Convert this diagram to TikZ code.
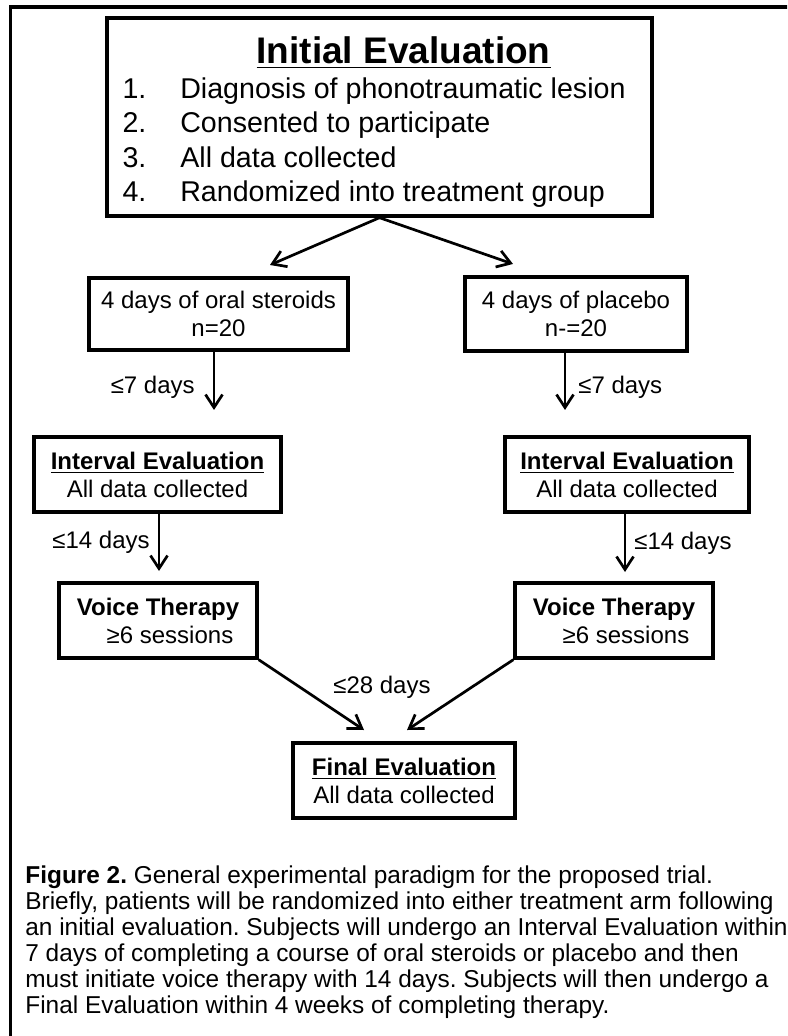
\documentclass[tikz,border=0pt]{standalone}
\usepackage{fontspec}
\setmainfont{Liberation Sans}
\usetikzlibrary{arrows.meta}
\frenchspacing

\begin{document}
\begin{tikzpicture}[x=0.5pt, y=-0.5pt,
  box/.style={draw, line width=1.7pt, align=center, inner sep=0pt,
    font=\fontsize{12}{14}\selectfont},
  lbl/.style={inner sep=2pt, font=\fontsize{12}{14}\selectfont},
  capt/.style={align=left, inner sep=0pt, font=\fontsize{12.2}{13}\selectfont},
  arr/.style={line width=1.35pt, -{Straight Barb[length=6.5pt, width=8.5pt]}},
  frame/.style={line width=1.9pt}]
\clip (0,0) rectangle (787,1036);
\draw[frame] (10.5,1040) -- (10.5,7) -- (790,7);

\node[box, minimum width=272.5pt, minimum height=99pt] (init) at (379.5,117)
  {\fontsize{14.3}{17.25}\selectfont
   \begin{tabular}{@{}l@{\hspace{17pt}}l@{\hspace{5.5pt}}}
   \multicolumn{2}{@{\hspace{67pt}}l@{}}{\rule{0pt}{21pt}%
     \fontsize{18.5}{22}\selectfont\bfseries\underline{Initial Evaluation}}\\
   1. & Diagnosis of phonotraumatic lesion\\
   2. & Consented to participate\\
   3. & All data collected\\
   4. & Randomized into treatment group
   \end{tabular}};
\node[box, minimum width=129.5pt, minimum height=36pt] (oral) at (218.5,314)
  {4 days of oral steroids\\n=20};
\node[box, minimum width=111pt, minimum height=37pt] (plac) at (576,314)
  {4 days of placebo\\n-=20};
\node[box, minimum width=123.5pt, minimum height=37.5pt] (int1) at (157.5,474.5)
  {\textbf{\underline{Interval Evaluation}}\\All data collected};
\node[box, minimum width=122pt, minimum height=37.5pt] (int2) at (627,474.5)
  {\textbf{\underline{Interval Evaluation}}\\All data collected};
\node[box, minimum width=99pt, minimum height=37.5pt] (vt1) at (158,620.5)
  {\textbf{Voice Therapy}\\\hspace{1em}≥6 sessions};
\node[box, minimum width=99pt, minimum height=37.5pt] (vt2) at (614,620.5)
  {\textbf{Voice Therapy}\\\hspace{1em}≥6 sessions};
\node[box, minimum width=111pt, minimum height=37.5pt] (fin) at (404,780.5)
  {\textbf{\underline{Final Evaluation}}\\All data collected};
\node[lbl] (d28) at (382,687) {≤28 days};
\node[capt, anchor=base west] (cap) at (25,1013)
  {\textbf{Figure 2.} General experimental paradigm for the proposed trial.\\
   Briefly, patients will be randomized into either treatment arm following\\
   an initial evaluation. Subjects will undergo an Interval Evaluation within\\
   7 days of completing a course of oral steroids or placebo and then\\
   must initiate voice therapy with 14 days. Subjects will then undergo a\\
   Final Evaluation within 4 weeks of completing therapy.};

\coordinate (ot) at (270,265);
\coordinate (pt) at (513,264);
\coordinate (t1) at (214,410);
\coordinate (t2) at (565,410);
\coordinate (t3) at (159,571);
\coordinate (t4) at (625,572);
\coordinate (f1) at (364,730);
\coordinate (f2) at (407,730);

\draw[arr] (init.south) -- (ot);
\draw[arr] (init.south) -- (pt);
\draw[arr] (t1 |- oral.south) -- (t1) node[lbl, midway, left=7pt, yshift=-3pt] {≤7 days};
\draw[arr] (t2 |- plac.south) -- (t2) node[lbl, midway, right=4pt, yshift=-3pt] {≤7 days};
\draw[arr] (t3 |- int1.south) -- (t3) node[lbl, midway, left=2pt] {≤14 days};
\draw[arr] (t4 |- int2.south) -- (t4) node[lbl, midway, right=2pt] {≤14 days};
\draw[arr] (vt1.south east) -- (f1);
\draw[arr] (vt2.south west) -- (f2);
\end{tikzpicture}
\end{document}
